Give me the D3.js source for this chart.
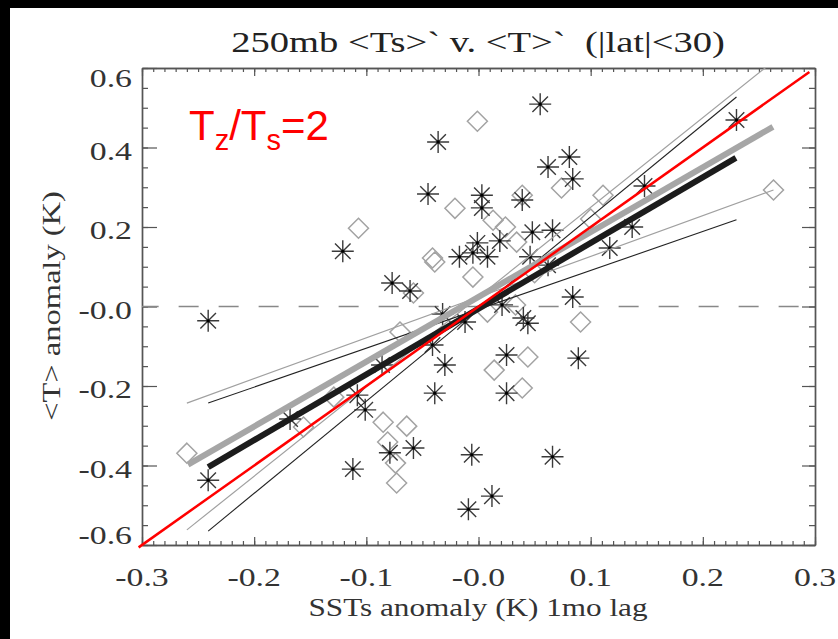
<!DOCTYPE html>
<html>
<head>
<meta charset="utf-8">
<script src="https://cdn.jsdelivr.net/npm/d3@7"></script>
<style>
    body { margin: 0; background: #000; }
    svg { display: block; }
</style>
</head>
<body>
<div id="chart"></div>
<script>
// tick values
var xTicks = [-0.3, -0.2, -0.1, 0, 0.1, 0.2, 0.3];
var yTicks = [-0.6, -0.4, -0.2, 0, 0.2, 0.4, 0.6];

// asterisks (black series)
var starX = [-0.241, -0.241, -0.121, -0.077, -0.061, -0.045, -0.036, -0.017, -0.001, -0.005,
    0.055, 0.003, 0.003, 0.039, 0.062, 0.081, 0.084, 0.048, 0.066, 0.019,
    0.008, 0.046, 0.117, 0.137, 0.148, 0.230, 0.084, 0.062, 0.021, 0.040,
    0.044, 0.025, 0.089, 0.025, -0.006, 0.066, 0.012, -0.009, -0.032, -0.012,
    -0.041, -0.030, -0.039, -0.101, -0.108, -0.086, -0.168, -0.079, -0.058, -0.112];
var starY = [-0.036, -0.437, 0.139, 0.059, 0.039, 0.283, 0.414, 0.125, 0.160, 0.135,
    0.509, 0.280, 0.248, 0.268, 0.351, 0.376, 0.321, 0.187, 0.192, 0.165,
    0.125, 0.125, 0.147, 0.200, 0.303, 0.469, 0.024, 0.104, 0.004, -0.029,
    -0.042, -0.122, -0.130, -0.218, -0.373, -0.378, -0.477, -0.510, -0.019, -0.039,
    -0.097, -0.147, -0.218, -0.260, -0.223, -0.147, -0.283, -0.368, -0.356, -0.409];

// diamonds (grey series)
var diaX = [-0.001, -0.021, -0.107, -0.041, -0.039, -0.005, -0.058, 0.074, 0.111, 0.039,
    0.013, 0.024, 0.034, 0.100, 0.263, 0.033, 0.008, 0.091, 0.044, 0.014,
    0.039, -0.070, -0.129, -0.085, -0.064, -0.081, -0.074, -0.073, -0.156, -0.260,
    0.050];
var diaY = [0.466, 0.247, 0.197, 0.122, 0.112, 0.074, 0.034, 0.298, 0.280, 0.280,
    0.217, 0.200, 0.162, 0.220, 0.293, 0.004, -0.014, -0.039, -0.127, -0.160,
    -0.205, -0.064, -0.228, -0.291, -0.301, -0.341, -0.394, -0.444, -0.303, -0.369,
    0.085];

// fitted lines, [[x0, y0], [x1, y1]]
var blackFit = [[-0.241, -0.404], [0.2295, 0.374]];
var blackHigh = [[-0.241, -0.565], [0.230, 0.527]];
var blackLow = [[-0.241, -0.243], [0.230, 0.218]];
var greyFit = [[-0.259, -0.398], [0.2625, 0.452]];
var greyHigh = [[-0.260, -0.562], [0.263, 0.617]];
var greyLow = [[-0.260, -0.243], [0.263, 0.293]];
var ratioLine = [[-0.303, -0.606], [0.295, 0.590]];

var width = 838, height = 639;
var pL = 142, pR = 815, pT = 68, pB = 545;
var serif = "'Liberation Serif', 'Times New Roman', serif";

var svg = d3.select('#chart').append('svg')
    .attr('width', width)
    .attr('height', height);

svg.append('rect')
    .attr('x', 10).attr('y', 8)
    .attr('width', width - 10).attr('height', height - 8)
    .attr('fill', '#fff');

var x = d3.scaleLinear().domain([-0.3, 0.3]).range([pL, pR]);
var y = d3.scaleLinear().domain([-0.6, 0.6]).range([pB, pT]);

svg.append('clipPath').attr('id', 'plot-clip')
    .append('rect')
    .attr('x', pL).attr('y', pT)
    .attr('width', pR - pL).attr('height', pB - pT);

var xMinor = d3.range(-30, 31).map(function (d) { return d / 100; });
var yMinor = d3.range(-12, 13).map(function (d) { return d / 20; });

function drawAxis(axis, tx, ty) {
    var g = svg.append('g')
        .attr('transform', 'translate(' + tx + ',' + ty + ')')
        .call(axis);
    g.selectAll('text').remove();
    g.select('.domain').attr('stroke', '#555').attr('stroke-width', 1.4);
    g.selectAll('line').attr('stroke', '#555').attr('stroke-width', 1.2);
    return g;
}

drawAxis(d3.axisBottom(x).tickValues(xMinor).tickSize(-4).tickSizeOuter(0), 0, pB);
drawAxis(d3.axisBottom(x).tickValues(xTicks).tickSize(-8).tickSizeOuter(0), 0, pB);
drawAxis(d3.axisTop(x).tickValues(xMinor).tickSize(-4).tickSizeOuter(0), 0, pT);
drawAxis(d3.axisTop(x).tickValues(xTicks).tickSize(-8).tickSizeOuter(0), 0, pT);
drawAxis(d3.axisLeft(y).tickValues(yMinor).tickSize(-6).tickSizeOuter(0), pL, 0);
drawAxis(d3.axisLeft(y).tickValues(yTicks).tickSize(-15).tickSizeOuter(0), pL, 0);
drawAxis(d3.axisRight(y).tickValues(yMinor).tickSize(-6).tickSizeOuter(0), pR, 0);
drawAxis(d3.axisRight(y).tickValues(yTicks).tickSize(-13).tickSizeOuter(0), pR, 0);

var fmt = function (d) {
    return (d <= 0 ? '-' : '') + Math.abs(d).toFixed(1);
};

// stretched serif text, like the original output
function label(str, tx, ty, size, sx, anchor, rot) {
    return svg.append('text')
        .attr('transform', 'translate(' + tx + ',' + ty + ')' + (rot ? ' rotate(' + rot + ')' : '') + ' scale(' + sx + ',1)')
        .attr('text-anchor', anchor || 'middle')
        .attr('font-family', serif)
        .attr('font-size', size)
        .attr('fill', '#333')
        .style('white-space', 'pre')
        .text(str);
}

xTicks.forEach(function (d) {
    label(fmt(d), x(d), 586, 26, 1.3, 'middle');
});
yTicks.forEach(function (d, i) {
    var shift = i === 0 ? -10 : (i === yTicks.length - 1 ? 10 : 3);
    label(fmt(d), 132, y(d) + shift + 9, 26, 1.3, 'end');
});

label("250mb <Ts>` v. <T>`  (|lat|<30)", 478, 52, 29, 1.33, 'middle').attr('fill', '#222');
label('SSTs anomaly (K) 1mo lag', 478, 616, 26, 1.2, 'middle');
label('<T> anomaly (K)', 60, 306, 26, 1.25, 'middle', -90);

var plot = svg.append('g').attr('clip-path', 'url(#plot-clip)');

// zero line
plot.append('line')
    .attr('x1', x(-0.303)).attr('x2', x(0.3))
    .attr('y1', y(0)).attr('y2', y(0))
    .attr('stroke', '#888')
    .attr('stroke-width', 1.5)
    .attr('stroke-dasharray', '20,20');

var diamond = function (r) {
    return 'M0,' + (-r) + 'L' + r + ',0L0,' + r + 'L' + (-r) + ',0Z';
};
var asterisk = function (r) {
    var a = r * Math.SQRT1_2;
    return 'M0,' + (-r) + 'V' + r + 'M' + (-r) + ',0H' + r +
        'M' + (-a) + ',' + (-a) + 'L' + a + ',' + a +
        'M' + (-a) + ',' + a + 'L' + a + ',' + (-a);
};

plot.selectAll('.dia')
    .data(diaX)
    .enter().append('path')
    .attr('class', 'dia')
    .attr('transform', function (d, i) { return 'translate(' + x(d) + ',' + y(diaY[i]) + ')'; })
    .attr('d', diamond(10))
    .attr('fill', 'none')
    .attr('stroke', '#a3a3a3')
    .attr('stroke-width', 1.5);

var stars = plot.selectAll('.star')
    .data(starX)
    .enter().append('g')
    .attr('class', 'star')
    .attr('transform', function (d, i) { return 'translate(' + x(d) + ',' + y(starY[i]) + ')'; });
stars.append('path')
    .attr('d', asterisk(11))
    .attr('stroke', '#3a3a3a')
    .attr('stroke-width', 1.4);
stars.append('circle')
    .attr('r', 1.6)
    .attr('fill', '#000');

var line = d3.line()
    .x(function (d) { return x(d[0]); })
    .y(function (d) { return y(d[1]); });

function fit(data, color, w) {
    plot.append('path')
        .attr('d', line(data))
        .attr('fill', 'none')
        .attr('stroke', color)
        .attr('stroke-width', w);
}

fit(greyHigh, '#a0a0a0', 1.2);
fit(greyLow, '#a0a0a0', 1.2);
fit(blackHigh, '#222', 1.1);
fit(blackLow, '#222', 1.1);
fit(blackFit, '#1c1c1c', 6);
fit(greyFit, '#a6a6a6', 6);

svg.append('path')
    .attr('d', line(ratioLine))
    .attr('fill', 'none')
    .attr('stroke', '#f00')
    .attr('stroke-width', 2.5);

var ratio = svg.append('text')
    .attr('x', 189).attr('y', 140)
    .attr('font-family', "'Liberation Sans', Arial, sans-serif")
    .attr('font-size', 42)
    .attr('fill', '#f00');
ratio.append('tspan').text('T');
ratio.append('tspan').attr('font-size', 29).attr('dy', 10).text('z');
ratio.append('tspan').attr('dy', -10).text('/T');
ratio.append('tspan').attr('font-size', 29).attr('dy', 10).text('s');
ratio.append('tspan').attr('dy', -10).text('=2');
</script>
</body>
</html>
